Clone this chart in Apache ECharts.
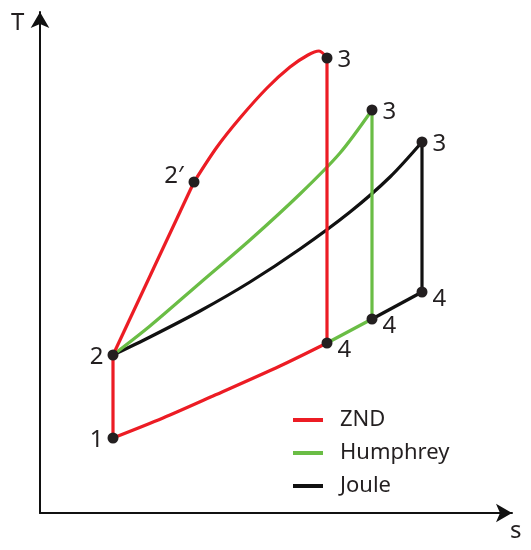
<!DOCTYPE html>
<html>
<head>
<meta charset="utf-8">
<script src="https://cdn.jsdelivr.net/npm/echarts@6/dist/echarts.min.js"></script>
<style>
  html, body { margin: 0; padding: 0; background: #fff; }
  #main { width: 531px; height: 550px; }
</style>
</head>
<body>
<div id="main"></div>
<script>
// T-s 图数据 (s, T)
var zndBottom = [[73, 75], [123, 95], [173, 117], [240, 147], [287, 170]];
var zndLeft = [[73, 75], [73, 158]];
var zndRise = [[73, 158], [154, 331]];
var zndTop = [[154, 331], [177, 366], [200, 395], [227, 425], [250, 446], [268, 458], [279, 462], [287, 455]];
var zndDrop = [[287, 455], [287, 170]];

var humTop = [[73, 158], [110, 187], [160, 230], [210, 273], [260, 319], [300, 360], [332, 403]];
var humDrop = [[332, 403], [332, 194]];
var humBottom = [[287, 170], [332, 194]];

var jouleTop = [[73, 158], [110, 176], [160, 202], [210, 231], [260, 264], [310, 301], [350, 336], [382, 371]];
var jouleDrop = [[382, 371], [382, 221]];
var jouleBottom = [[332, 194], [382, 221]];

var stateNames = ['1', '2', '2\u2032', '3', '4', '3', '4', '3', '4'];
var statePoints = [[73, 75], [73, 158], [154, 331], [287, 455], [287, 170],
                   [332, 403], [332, 194], [382, 371], [382, 221]];

var cycles = ['ZND', 'Humphrey', 'Joule'];

var RED = '#ec1c24', GREEN = '#6abd45', BLACK = '#111111';
var FONT = 'Noto Sans';

var myChart = echarts.init(document.getElementById('main'));

function seg(name, color, data, smooth, z) {
    return {
        name: name,
        type: 'line',
        data: data,
        smooth: smooth,
        symbol: 'none',
        color: color,
        z: z,
        lineStyle: { color: color, width: 3.2 },
        animation: false
    };
}

// 点标签位置
function labelFor(i) {
    var n = stateNames[i];
    if (n === '1' || n === '2') return { position: 'left', distance: 4, offset: [0, 2] };
    if (n === '2\u2032') return { position: 'left', distance: 5, offset: [0, -6] };
    if (n === '3') return { position: 'right', distance: 5, offset: [0, 2] };
    return { position: 'right', distance: 5, offset: [0, 7] };
}

var option = {
    animation: false,
    grid: { left: 40, right: 19, top: 12, bottom: 37 },
    xAxis: {
        type: 'value', min: 0, max: 472,
        axisLine: { show: true, onZero: false, symbol: ['none', 'arrow'], symbolSize: [14, 16],
                    lineStyle: { color: BLACK, width: 2 } },
        axisTick: { show: false }, axisLabel: { show: false }, splitLine: { show: false }
    },
    yAxis: {
        type: 'value', min: 0, max: 501,
        axisLine: { show: true, onZero: false, symbol: ['none', 'arrow'], symbolSize: [14, 16],
                    lineStyle: { color: BLACK, width: 2 } },
        axisTick: { show: false }, axisLabel: { show: false }, splitLine: { show: false }
    },
    legend: {
        data: cycles,
        orient: 'vertical',
        left: 293, top: 409,
        padding: 0,
        itemWidth: 30, itemHeight: 4, itemGap: 11,
        icon: 'rect',
        textStyle: { fontFamily: FONT, fontSize: 22, color: '#231f20', padding: [0, 0, 0, 12] }
    },
    graphic: [
        { type: 'text', left: 11, top: 11, style: { text: 'T', fontFamily: FONT, fontSize: 24, fill: '#231f20' } },
        { type: 'text', left: 510, top: 519, style: { text: 's', fontFamily: FONT, fontSize: 24, fill: '#231f20' } }
    ],
    series: [
        seg('Joule', BLACK, jouleTop, 0.3, 2),
        seg('Joule', BLACK, jouleDrop, false, 2),
        seg('Joule', BLACK, jouleBottom, false, 2),
        seg('Humphrey', GREEN, humTop, 0.3, 3),
        seg('Humphrey', GREEN, humDrop, false, 3),
        seg('Humphrey', GREEN, humBottom, false, 3),
        seg('ZND', RED, zndBottom, 0.3, 4),
        seg('ZND', RED, zndLeft, false, 4),
        seg('ZND', RED, zndRise, false, 4),
        seg('ZND', RED, zndTop, 0.3, 4),
        seg('ZND', RED, zndDrop, false, 4),
        {
            name: 'states',
            type: 'scatter',
            z: 10,
            symbolSize: 11,
            itemStyle: { color: '#231f20', opacity: 1 },
            data: statePoints.map(function (p, i) {
                return {
                    value: p,
                    label: Object.assign({
                        show: true,
                        formatter: stateNames[i],
                        fontFamily: FONT,
                        fontSize: 24,
                        color: '#231f20'
                    }, labelFor(i))
                };
            })
        }
    ]
};

myChart.setOption(option);
</script>
</body>
</html>
